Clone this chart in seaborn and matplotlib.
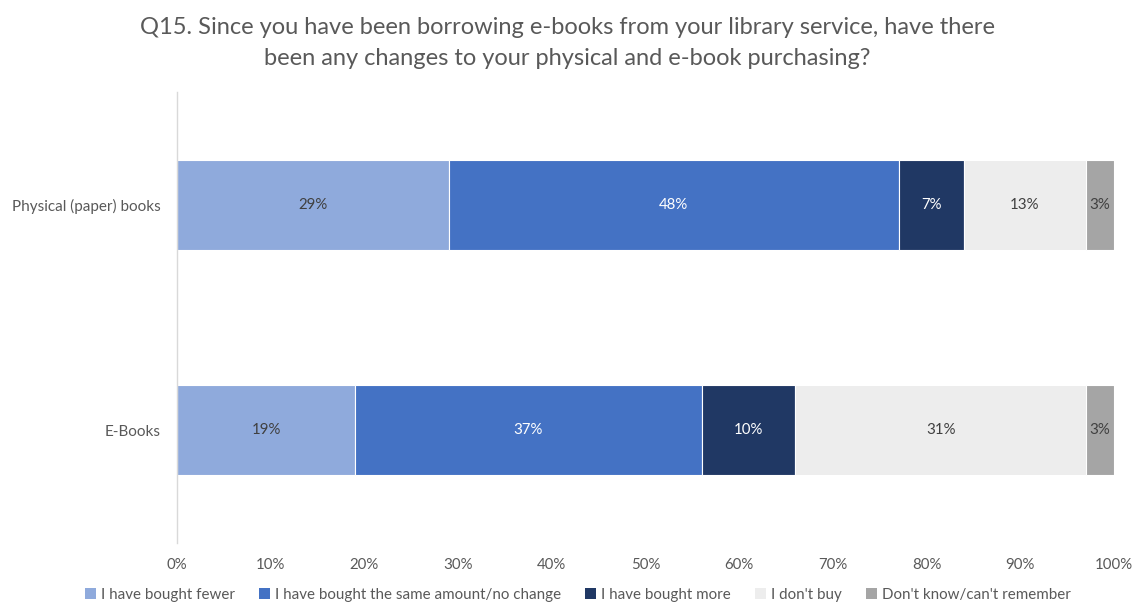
import matplotlib
matplotlib.use("Agg")
import matplotlib.pyplot as plt
import seaborn as sns
import numpy as np
from matplotlib.patches import Patch

sns.set_theme(style="white")
plt.rcParams["font.family"] = ["Lato", "DejaVu Sans"]

categories = ["Physical (paper) books", "E-Books"]
series_names = [
    "I have bought fewer",
    "I have bought the same amount/no change",
    "I have bought more",
    "I don't buy",
    "Don't know/can't remember",
]
fewer = [29, 19]
same = [48, 37]
more = [7, 10]
dont_buy = [13, 31]
dont_know = [3, 3]
series_values = [fewer, same, more, dont_buy, dont_know]

colors = ["#8FAADC", "#4472C4", "#203864", "#EDEDED", "#A5A5A5"]
label_colors = ["#404040", "white", "white", "#404040", "#404040"]

fig = plt.figure(figsize=(11.35, 6.03), dpi=100)
ax = fig.add_axes([0.156, 0.0995, 0.8255, 0.7475])

left = np.zeros(len(categories))
for name, vals, col, lcol in zip(series_names, series_values, colors, label_colors):
    vals = np.asarray(vals, dtype=float)
    sns.barplot(x=vals, y=categories, orient="y", color=col, width=0.4,
                saturation=1, left=left, edgecolor="white", linewidth=0.8, ax=ax)
    cont = ax.containers[-1]
    ax.bar_label(cont, labels=[f"{int(v)}%" for v in vals], label_type="center",
                 color=lcol, fontsize=10.8)
    left = left + vals

ax.set_xlim(0, 100)
ax.set_ylim(1.5, -0.5)
ax.set_xticks(np.arange(0, 101, 10))
ax.set_xticklabels([f"{t}%" for t in range(0, 101, 10)], fontsize=10.8, color="#595959")
ax.tick_params(axis="y", labelsize=11, labelcolor="#595959", pad=12)
ax.tick_params(axis="x", pad=11, length=0)
ax.tick_params(axis="y", length=0)
ax.set_xlabel("")
ax.set_ylabel("")
for s in ["top", "right", "bottom"]:
    ax.spines[s].set_visible(False)
ax.spines["left"].set_color("#D9D9D9")
ax.spines["left"].set_linewidth(1)

fig.suptitle("Q15. Since you have been borrowing e-books from your library service, have there\n"
             "been any changes to your physical and e-book purchasing?",
             y=0.972, fontsize=17, color="#595959", linespacing=1.62)

handles = [Patch(facecolor=c, edgecolor="none") for c in colors]
fig.legend(handles, series_names, loc="center", bbox_to_anchor=(0.509, 0.013),
           ncol=5, frameon=False, fontsize=10.9, labelcolor="#595959",
           handlelength=0.75, handleheight=0.75, handletextpad=0.3, columnspacing=1.6)

fig.savefig("out.png", dpi=100)
